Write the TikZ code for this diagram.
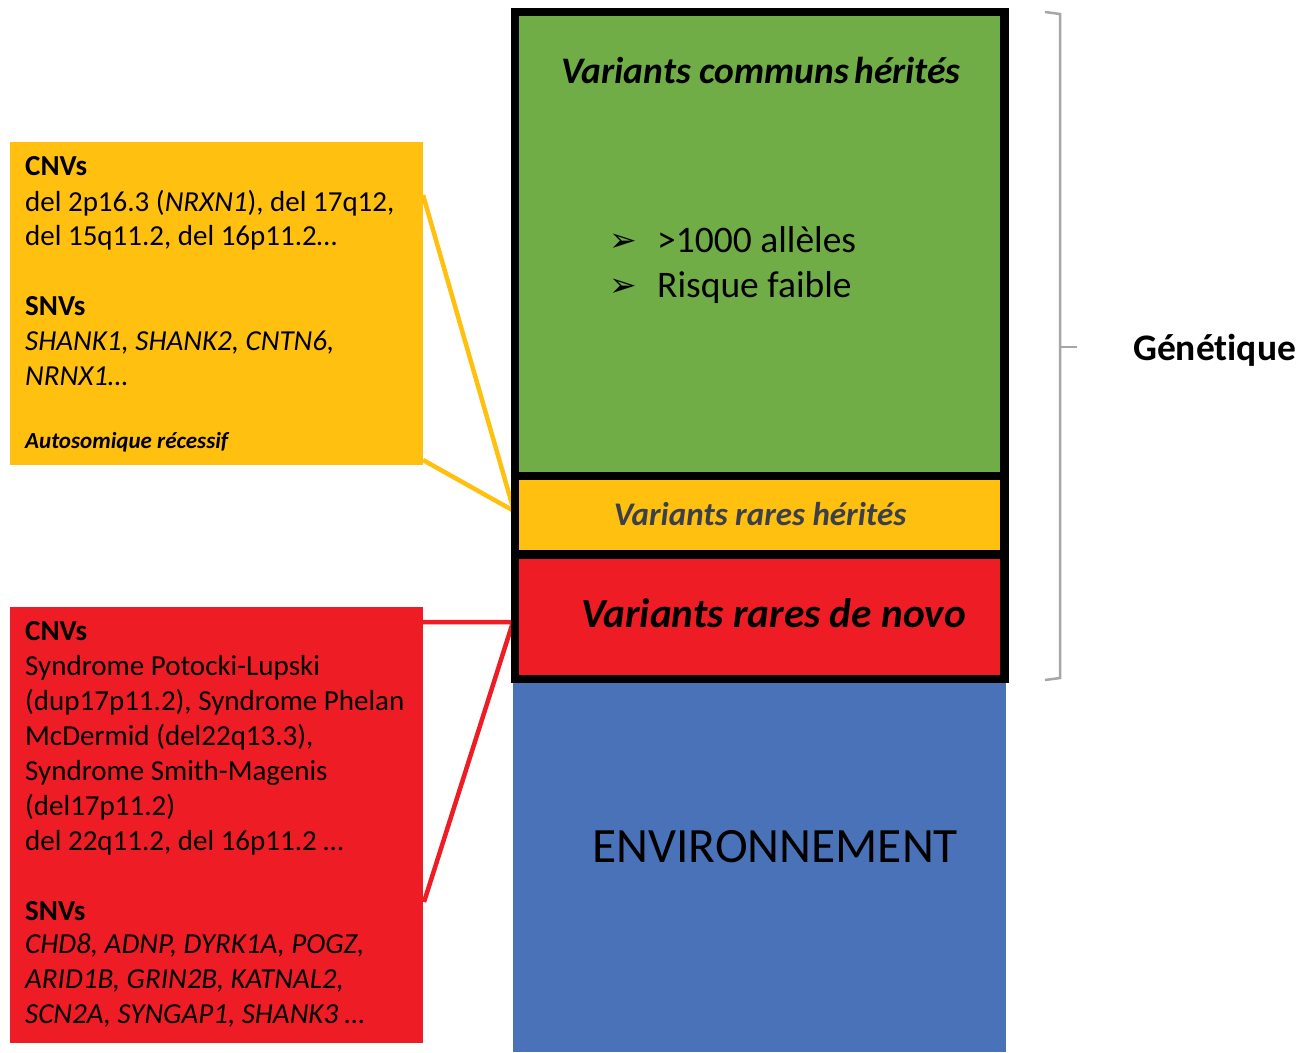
\documentclass[tikz,border=0pt]{standalone}
\usepackage{fontspec}
\setmainfont{Carlito}[Ligatures={NoCommon,NoRare}]
\newfontfamily\djv{DejaVu Sans}
\definecolor{cgreen}{HTML}{70AD47}
\definecolor{cyellow}{HTML}{FFC010}
\definecolor{cred}{HTML}{EE1D25}
\definecolor{cblue}{HTML}{4A72B8}
\definecolor{cgray}{HTML}{A6A6A6}
\definecolor{cslate}{HTML}{3B3F4A}
\begin{document}
\begin{tikzpicture}[x=1pt,y=-1pt,
  boxtxt/.style={anchor=base west,inner sep=0pt,font=\fontsize{29}{34}\selectfont},
  smalltxt/.style={anchor=base west,inner sep=0pt,font=\fontsize{23}{28}\selectfont\bfseries\itshape},
  yline/.style={cyellow,line width=4.5pt,line join=miter},
  rline/.style={cred,line width=4.5pt,line join=miter}]
\useasboundingbox (0,0) rectangle (1314,1052);
% side boxes
\path[fill=cyellow] (10,142) rectangle (423,465);
\path[fill=cred] (10,607) rectangle (423,1043);
\coordinate (ya) at (423,195);
\coordinate (yb) at (423,460);
\coordinate (ytip) at (514,511);
\coordinate (ra) at (423,622);
\coordinate (rtip) at (513,622);
\coordinate (rb) at (424,902);
\draw[yline] (ya) -- (ytip) -- (yb);
\draw[rline] (ra) -- (rtip) -- (rb);
% column
\path[fill=cblue] (513,679) rectangle (1006,1052);
\path[fill=cgreen] (515,12) rectangle (1004.5,476);
\path[fill=cyellow] (515,476) rectangle (1004.5,554.5);
\path[fill=cred] (515,554.5) rectangle (1004.5,679);
\draw[line width=8.5pt] (515,12) rectangle (1004.5,679);
\draw[line width=8.5pt] (515,476) -- (1004.5,476);
\draw[line width=8.5pt] (515,554.5) -- (1004.5,554.5);
% brace
\coordinate (bt) at (1045,12);
\coordinate (bb) at (1045,680);
\coordinate (bm) at (1077,347);
\draw[cgray,line width=2.5pt] (bt) -- (1060,14) -- (1060,678) -- (bb);
\draw[cgray,line width=2.5pt] (1060,347) -- (bm);
\node[anchor=base west,inner sep=0pt,font=\fontsize{37.5}{44}\selectfont\bfseries] (gen) at (1133,360) {Génét\kern0pt ique};
% column texts
\node[anchor=base,inner sep=0pt,font=\fontsize{37.5}{44}\selectfont\bfseries\itshape] (vc) at (761,83) {Variants communs\kern-3pt\ hérités};
\node[anchor=base west,inner sep=0pt,font=\fontsize{37.5}{44}\selectfont] (b1) at (657,252) {>1000 allèles};
\node[anchor=base west,inner sep=0pt,font=\fontsize{37.5}{44}\selectfont] (b2) at (657,297) {Risque faible};
\node[anchor=base west,inner sep=0pt,font=\fontsize{33}{40}\djv] (a1) at (609,251) {➢};
\node[anchor=base west,inner sep=0pt,font=\fontsize{33}{40}\djv] (a2) at (609,296) {➢};
\node[anchor=base,inner sep=0pt,text=cslate,font=\fontsize{33}{40}\selectfont\bfseries\itshape] (vrh) at (760,525) {Variants rares hérités};
\node[anchor=base west,inner sep=0pt,font=\fontsize{41.3}{48}\selectfont\bfseries\itshape] (vrn) at (581,627) {Variants rares de novo};
\node[anchor=base west,inner sep=0pt,font=\fontsize{49.4}{58}\selectfont] (env) at (592,862) {ENVIRONNEMENT};
% yellow box text
\node[boxtxt] (y1) at (25,175) {\bfseries CNVs};
\node[boxtxt] (y2) at (25,211) {del 2p16.3 (\textit{NRXN1}), del 17q12,};
\node[boxtxt] (y3) at (25,245) {del 15q11.2, del 16p11.2…};
\node[boxtxt] (y4) at (25,315) {\bfseries SNVs};
\node[boxtxt] (y5) at (25,350) {\itshape SHANK1, SHANK2, CNTN6,};
\node[boxtxt] (y6) at (25,385) {\itshape NRNX1…};
\node[smalltxt] (y7) at (25,448) {Autosomique récessif};
% red box text
\node[boxtxt] (r1) at (25,640) {\bfseries CNVs};
\node[boxtxt] (r2) at (25,675) {Syndrome Potocki-Lupski};
\node[boxtxt] (r3) at (25,710) {(dup17p11.2), Syndrome Phelan};
\node[boxtxt] (r4) at (25,745) {McDermid (del22q13.3),};
\node[boxtxt] (r5) at (25,780) {Syndrome Smith-Magenis};
\node[boxtxt] (r6) at (25,815) {(del17p11.2)};
\node[boxtxt] (r7) at (25,850) {del 22q11.2, del 16p11.2 …};
\node[boxtxt] (r8) at (25,920) {\bfseries SNVs};
\node[boxtxt] (r9) at (25,953) {\itshape CHD8, ADNP, DYRK1A, POGZ,};
\node[boxtxt] (r10) at (25,988) {\itshape ARID1B, GRIN2B, KATNAL2,};
\node[boxtxt] (r11) at (25,1023) {\itshape SCN2A, SYNGAP1, SHANK3 …};
\end{tikzpicture}
\end{document}
